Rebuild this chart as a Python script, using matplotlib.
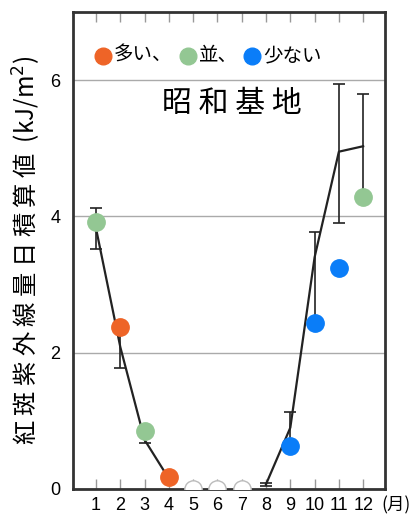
import numpy as np
import matplotlib.pyplot as plt

# monthly data (Syowa station, erythemal UV daily sum)
months = [1, 2, 3, 4, 5, 6, 7, 8, 9, 10, 11, 12]
mean_vals = [3.82, 2.08, 0.72, 0.15, np.nan, np.nan, np.nan, 0.07, 0.90, 3.40, 4.95, 5.03]
err_low = [0.30, 0.31, 0.05, 0.02, np.nan, np.nan, np.nan, 0.02, 0.25, 0.95, 1.04, 0.73]
err_high = [0.31, 0.30, 0.05, 0.02, np.nan, np.nan, np.nan, 0.02, 0.23, 0.37, 0.99, 0.76]
obs_vals = [3.92, 2.37, 0.85, 0.18, 0.0, 0.0, 0.0, np.nan, 0.63, 2.43, 3.24, 4.29]
obs_class = ["avg", "high", "avg", "high", "none", "none", "none", "none", "low", "low", "low", "avg"]

class_colors = {"high": "#EE6427", "avg": "#93C793", "low": "#0A7DF8", "none": "white"}
legend_items = [("high", "多い、"), ("avg", "並、"), ("low", "少ない")]

plt.rcParams["font.family"] = ["Noto Sans CJK JP", "DejaVu Sans"]
num_font = ["Liberation Sans Narrow", "Liberation Sans", "DejaVu Sans"]

fig = plt.figure(figsize=(4.16, 5.17), dpi=100)
ax = fig.add_axes([0.1755, 0.0542, 0.75, 0.9226])

x = np.array(months, dtype=float)
m = np.array(mean_vals)
ax.errorbar(x, m, yerr=[err_low, err_high], color="#222222", lw=1.6,
            elinewidth=1.2, capsize=4.5, capthick=1.2, zorder=3)

for xi, yi, c in zip(months, obs_vals, obs_class):
    if np.isnan(yi):
        continue
    edge = "#BBBBBB" if c == "none" else class_colors[c]
    ax.plot(xi, yi, "o", ms=12.5, mfc=class_colors[c], mec=edge, mew=1.0, zorder=4)

ax.set_xlim(0.05, 12.9)
ax.set_ylim(0, 7)
ax.set_yticks([0, 2, 4, 6])
ax.set_xticks(months)
ax.set_xticklabels([str(mo) for mo in months])
ax.grid(axis="y", color="#AAAAAA", lw=1.0)
ax.set_axisbelow(True)
ax.tick_params(axis="x", direction="in", top=True, bottom=True, length=7,
               width=1, color="#999999", labelsize=13, pad=6)
ax.tick_params(axis="y", length=0, labelsize=13, pad=9)
for lab in ax.get_xticklabels() + ax.get_yticklabels():
    lab.set_family(num_font)
for sp in ax.spines.values():
    sp.set_color("#333333")
    sp.set_linewidth(2)

ylab = " ".join("紅斑紫外線量日積算値") + "  (kJ/m$^2$)"
ax.set_ylabel(ylab, fontsize=17.5, labelpad=5)
ax.text(13.35, -0.24, "(月)", fontsize=12.5, ha="center", va="center", clip_on=False)

ax.text(6.6, 5.66, " ".join("昭和基地"), fontsize=21.5, ha="center", va="center")

# legend row
lx = [1.29, 4.79, 7.42]
for (key, txt), xi in zip(legend_items, lx):
    ax.plot(xi, 6.36, "o", ms=12, color=class_colors[key])
    ax.text(xi + 0.45, 6.36, txt, fontsize=14, ha="left", va="center")

fig.savefig("out.png", dpi=100, facecolor="white")
